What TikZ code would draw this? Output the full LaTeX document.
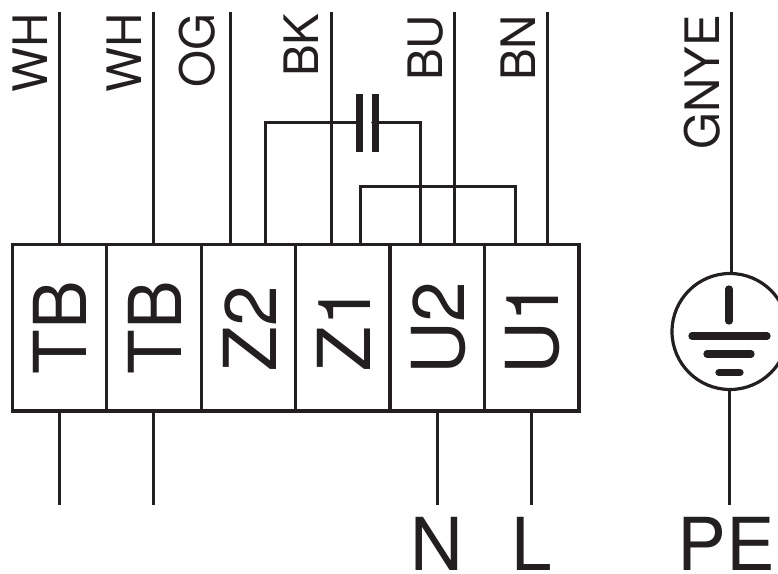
\documentclass[tikz,border=0pt]{standalone}
\usepackage{fontspec}
\setmainfont{TeX Gyre Heros}
\definecolor{ink}{RGB}{35,31,32}
\tikzset{
 wire/.style={draw=ink,line width=3pt},
 termbox/.style={draw=ink,line width=3.2pt,outer sep=0pt,minimum width=94.45pt,minimum height=166.7pt,inner sep=0pt,anchor=north west},
 termtext/.style={font=\fontsize{73pt}{73pt}\selectfont,text=ink,rotate=90,inner sep=0pt,anchor=base west},
 wirelabel/.style={font=\fontsize{47.5pt}{47.5pt}\selectfont,text=ink,rotate=90,inner sep=0pt,anchor=base west},
 endlabel/.style={font=\fontsize{73pt}{73pt}\selectfont,text=ink,inner sep=0pt,anchor=base west},
 plate/.style={draw=ink,line width=7pt},
 earthbar/.style={draw=ink,line width=7.3pt,line cap=round}
}
\begin{document}
\begin{tikzpicture}[x=1pt,y=-1pt]
\useasboundingbox (0,0) rectangle (778,573);
\clip (0,0) rectangle (778,573);
% terminal blocks
\foreach \n/\x in {a/12.2,b/106.65,c/201.1,d/295.55,e/390,f/484.45}{
  \node[termbox] (\n) at (\x,244.3) {};
}
\node[termtext] (ta) at (86.7,374.5) {TB};
\node[termtext] (tb) at (181,374.5) {TB};
\node[termtext] (tc) at (276,371.5) {Z2};
\node[termtext] (td) at (370,371.5) {Z1};
\node[termtext] (te) at (464.5,375) {U2};
\node[termtext] (tf) at (558,375) {U1};
% earth symbol
\node[draw=ink,line width=3.2pt,outer sep=0pt,circle,minimum size=116pt,inner sep=0pt] (pe) at (730,331.5) {};
\coordinate (ev1) at (729,289); \coordinate (ev2) at (729,321);
\coordinate (eh1a) at (692,336); \coordinate (eh1b) at (767,336);
\coordinate (eh2a) at (707,354); \coordinate (eh2b) at (751,354);
\coordinate (eh3a) at (719,372.5); \coordinate (eh3b) at (740,372.5);
\draw[earthbar] (ev1) -- (ev2);
\draw[earthbar] (eh1a) -- (eh1b);
\draw[earthbar] (eh2a) -- (eh2b);
\draw[earthbar] (eh3a) -- (eh3b);
% top wires
\foreach \n/\x in {wa/59.7,wb/153.7,wc/230.3,wd/331,we/454,wf/547}{
  \coordinate (\n) at (\x,12);
  \draw[wire] (\n) -- (\n |- a.north);
}
\coordinate (wg) at (731,12);
\draw[wire] (wg) -- (wg |- pe.north);
% capacitor
\coordinate (cl) at (265,122.7); \coordinate (cr) at (420,122.7);
\coordinate (p1) at (359.3,122.7); \coordinate (p2) at (372.5,122.7);
\draw[wire,line cap=round] (cl |- a.north) -- (cl) -- (p1);
\draw[wire,line cap=round] (p2) -- (cr) -- (cr |- a.north);
\draw[plate] (359.3,94) -- (359.3,152);
\draw[plate] (375.7,94) -- (375.7,152);
% bridge
\coordinate (bl) at (360.7,186); \coordinate (br) at (515.3,186);
\draw[wire,line cap=round] (bl |- a.north) -- (bl) -- (br) -- (br |- a.north);
% bottom wires
\foreach \n/\x in {ba/59.7,bb/153.7,bc/437.7,bd/531}{
  \coordinate (\n) at (\x,505);
  \draw[wire] (\n |- a.south) -- (\n);
}
\coordinate (bg) at (729.3,505);
\draw[wire] (bg |- pe.south) -- (bg);
% labels
\node[wirelabel] (la) at (47,93) {WH};
\node[wirelabel] (lb) at (141.3,93) {WH};
\node[wirelabel] (lc) at (214.5,87.5) {OG};
\node[wirelabel] (ld) at (318,77) {BK};
\node[wirelabel] (le) at (442,81) {BU};
\node[wirelabel] (lf) at (535,81) {BN};
\node[wirelabel] (lg) at (719,150) {GNYE};
\node[endlabel] (ln) at (410.5,570) {N};
\node[endlabel] (ll) at (511,570) {L};
\node[endlabel] (lp) at (677.5,570) {PE};
\end{tikzpicture}
\end{document}
